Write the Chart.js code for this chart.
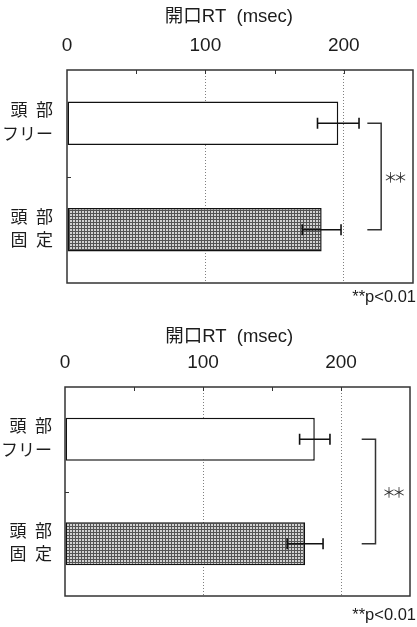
<!DOCTYPE html>
<html lang="ja">
<head>
<meta charset="utf-8">
<title>開口RT</title>
<script src="https://cdn.jsdelivr.net/npm/chart.js@4/dist/chart.umd.min.js"></script>
<style>
  html, body { margin: 0; padding: 0; background: #fff; overflow: hidden; }
  .panel { position: absolute; left: 0; width: 417px; }
  #upper { top: 0; height: 310px; }
  #lower { top: 310px; height: 317px; }
</style>
</head>
<body>
<div class="panel" id="upper"><canvas id="chartUpper"></canvas></div>
<div class="panel" id="lower"><canvas id="chartLower"></canvas></div>
<script>
// Conditions (two-line labels on the category axis)
const conditions = [['頭\u2002部', 'フリー'], ['頭\u2002部', '固\u2002定']];

// Upper panel: mean opening RT and its error (msec)
const upperMeans = [196, 184];
const upperErrors = [15, 14];

// Lower panel: mean opening RT and its error (msec)
const lowerMeans = [181, 174];
const lowerErrors = [11, 13];

// Value axis
const labeledTicks = [0, 100, 200];
const minorTicks = [50, 150];
const axisMax = 250;

const axisTitle = '開口RT  (msec)';
const significanceMark = '＊＊';
const significanceNote = '**p<0.01';

const FONT = '"Liberation Sans", "Noto Sans CJK JP", sans-serif';
Chart.defaults.font.family = FONT;
Chart.defaults.color = '#1c1c1c';

// Fine grid fill for the fixed-head bar
function makeDotPattern() {
  const c = document.createElement('canvas');
  c.width = 3; c.height = 3;
  const g = c.getContext('2d');
  g.fillStyle = '#d2d2d2'; g.fillRect(0, 0, 3, 3);
  g.fillStyle = '#545454';
  g.fillRect(0, 0, 3, 1);
  g.fillRect(0, 0, 1, 3);
  return g.createPattern(c, 'repeat');
}

// Title, frame, inward ticks, error bars, significance bracket and note
const overlay = {
  id: 'overlay',
  afterDatasetsDraw(chart, args, opts) {
    const { ctx, chartArea: a, scales: { x } } = chart;
    const meta = chart.getDatasetMeta(0);
    const values = chart.data.datasets[0].data;
    ctx.save();

    // axis title
    ctx.fillStyle = '#1c1c1c';
    ctx.textAlign = 'center';
    ctx.textBaseline = 'middle';
    ctx.font = '18.5px ' + FONT;
    ctx.fillText(axisTitle, x.getPixelForValue(opts.titleAt), opts.titleY);

    // error bars
    ctx.strokeStyle = '#111';
    ctx.lineWidth = 1.6;
    meta.data.forEach((bar, i) => {
      const lo = x.getPixelForValue(values[i] - opts.errors[i]);
      const hi = x.getPixelForValue(values[i] + opts.errors[i]);
      const yc = bar.y;
      ctx.beginPath();
      ctx.moveTo(lo, yc); ctx.lineTo(hi, yc);
      ctx.moveTo(lo, yc - 5.5); ctx.lineTo(lo, yc + 5.5);
      ctx.moveTo(hi, yc - 5.5); ctx.lineTo(hi, yc + 5.5);
      ctx.stroke();
    });

    // plot frame
    ctx.strokeStyle = '#333';
    ctx.lineWidth = 1.5;
    ctx.strokeRect(a.left, a.top, a.width, a.height);

    // short inward ticks on the value axis
    ctx.lineWidth = 1;
    ctx.beginPath();
    [...minorTicks, ...labeledTicks.slice(1)].forEach(v => {
      const px = Math.round(x.getPixelForValue(v)) + 0.5;
      ctx.moveTo(px, a.top); ctx.lineTo(px, a.top + 4);
    });
    // inward tick between the categories
    const yMid = (meta.data[0].y + meta.data[1].y) / 2;
    ctx.moveTo(a.left, Math.round(yMid) + 0.5);
    ctx.lineTo(a.left + 4, Math.round(yMid) + 0.5);
    ctx.stroke();

    // significance bracket
    const bx = x.getPixelForValue(opts.bracketAt);
    const ax = x.getPixelForValue(opts.armFrom);
    ctx.strokeStyle = '#333';
    ctx.lineWidth = 1.5;
    ctx.beginPath();
    ctx.moveTo(ax, meta.data[0].y);
    ctx.lineTo(bx, meta.data[0].y);
    ctx.lineTo(bx, meta.data[1].y);
    ctx.lineTo(ax, meta.data[1].y);
    ctx.stroke();

    ctx.fillStyle = '#333';
    ctx.textAlign = 'center';
    ctx.font = '14px "Noto Sans CJK JP", sans-serif';
    if ('letterSpacing' in ctx) ctx.letterSpacing = '-4px';
    ctx.fillText(significanceMark, x.getPixelForValue(opts.starsAt), yMid);
    if ('letterSpacing' in ctx) ctx.letterSpacing = '0px';

    ctx.fillStyle = '#1c1c1c';
    ctx.textAlign = 'right';
    ctx.font = '16.5px "Liberation Sans", sans-serif';
    ctx.fillText(significanceNote, chart.width - 1, a.bottom + opts.noteOffset);
    ctx.restore();
  }
};

function buildChart(canvasId, means, errors, frame) {
  return new Chart(document.getElementById(canvasId), {
    type: 'bar',
    data: {
      labels: conditions,
      datasets: [{
        data: means,
        backgroundColor: ['#ffffff', makeDotPattern()],
        borderColor: '#111',
        borderWidth: 1.5,
        borderSkipped: false,
        barPercentage: 0.41,
        categoryPercentage: 1
      }]
    },
    options: {
      indexAxis: 'y',
      responsive: true,
      maintainAspectRatio: false,
      animation: false,
      events: [],
      layout: { padding: { left: 0, top: 0, right: frame.rightPad, bottom: frame.bottomPad } },
      plugins: {
        legend: { display: false },
        tooltip: { enabled: false },
        overlay: {
          errors: errors,
          titleAt: frame.titleAt,
          titleY: frame.titleY,
          bracketAt: frame.bracketAt,
          armFrom: frame.armFrom,
          starsAt: frame.starsAt,
          noteOffset: frame.noteOffset
        }
      },
      scales: {
        x: {
          type: 'linear',
          position: 'top',
          min: 0,
          max: axisMax,
          afterBuildTicks: s => { s.ticks = labeledTicks.map(v => ({ value: v })); },
          afterFit: s => { s.height = frame.top; s.paddingLeft = 0; s.paddingRight = 0; },
          ticks: {
            autoSkip: false,
            maxRotation: 0,
            padding: 13,
            font: { size: 19 },
            color: '#1c1c1c'
          },
          grid: {
            drawTicks: false,
            lineWidth: 1,
            color: c => (c.tick && c.tick.value > 0 ? '#808080' : 'rgba(0,0,0,0)')
          },
          border: { display: false, dash: [1, 2] }
        },
        y: {
          type: 'category',
          offset: true,
          afterFit: s => { s.width = frame.left; s.paddingTop = 0; s.paddingBottom = 0; },
          ticks: {
            padding: frame.labelPad,
            font: { size: 17, lineHeight: 1.4 },
            color: '#1c1c1c'
          },
          grid: { display: false, drawTicks: false },
          border: { display: false }
        }
      }
    },
    plugins: [overlay]
  });
}

buildChart('chartUpper', upperMeans, upperErrors, {
  left: 67, top: 70, rightPad: 4, bottomPad: 27, titleAt: 117, titleY: 17, labelPad: 14,
  bracketAt: 227, armFrom: 217, starsAt: 236, noteOffset: 14
});
buildChart('chartLower', lowerMeans, lowerErrors, {
  left: 65, top: 77, rightPad: 7, bottomPad: 31, titleAt: 119, titleY: 27, labelPad: 13,
  bracketAt: 225, armFrom: 215, starsAt: 237, noteOffset: 19
});
</script>
</body>
</html>
